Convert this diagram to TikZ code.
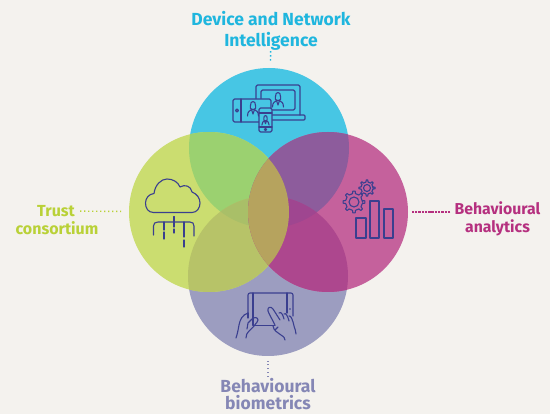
\documentclass[tikz,border=0pt]{standalone}
\usepackage{fontspec}
\setmainfont{Fira Sans}
\definecolor{paper}{HTML}{F4F2EE}
\definecolor{bluefill}{HTML}{47C6E4}
\definecolor{greenfill}{HTML}{CBDD70}
\definecolor{magentafill}{HTML}{C5619C}
\definecolor{lavfill}{HTML}{9C9DC0}
\definecolor{bluetext}{HTML}{1FB6DE}
\definecolor{greentext}{HTML}{B9D137}
\definecolor{magentatext}{HTML}{B5307F}
\definecolor{lavtext}{HTML}{8587B5}
\definecolor{icon}{HTML}{3A3F8F}
\newcommand{\blueclip}{\clip (269,148) circle (80);}
\newcommand{\greenclip}{\clip (209,212) circle (80);}
\newcommand{\magentaclip}{\clip (328,212) circle (80);}
\newcommand{\lavclip}{\clip (268,276) circle (80);}
\newcommand{\overlap}[2]{\begin{scope}#2\fill[fill=#1] (0,0) rectangle (550,414);\end{scope}}
\begin{document}
\begin{tikzpicture}[x=1pt,y=-1pt,
        venn/.style = {circle, inner sep=0pt, outer sep=0pt, minimum size=160pt},
        lbl/.style = {align=center, inner sep=0pt},
        dots/.style = {line width=1.4pt, dash pattern=on 1.4pt off 2.6pt, shorten >=5pt, shorten <=5pt},
        iconline/.style = {draw=icon, line width=1.1pt, line cap=round, line join=round},
        person/.pic = {
            \draw[iconline] (-2.6,0) .. controls (-3,-6) and (3,-6) .. (2.6,0) -- (2.6,2.5) .. controls (1.5,4) and (-1.5,4) .. (-2.6,2.5) -- cycle;
            \draw[iconline] (-5.5,10) .. controls (-5.5,5) and (-3,5) .. (-1.5,3.5) -- (0,8) -- (1.5,3.5) .. controls (3,5) and (5.5,5) .. (5.5,10);
        },
        gear/.pic = {
            \draw[iconline] (0:\gearin) \foreach \a in {0,45,...,315} {
                -- (\a-10:\gearin) -- (\a-6:\gearout) -- (\a+6:\gearout) -- (\a+10:\gearin)
            } -- cycle;
            \draw[iconline] (0,0) circle (\gearhole);
        }]
    \fill[paper] (0,0) rectangle (550,414);
    \useasboundingbox (0,0) rectangle (550,414);

    \node[venn, fill=bluefill] (blue) at (269,148) {};
    \node[venn, fill=lavfill] (lav) at (268,276) {};
    \node[venn, fill=greenfill] (green) at (209,212) {};
    \node[venn, fill=magentafill] (magenta) at (328,212) {};

    % overlaps
    \definecolor{bg}{HTML}{9BD170}
    \definecolor{bm}{HTML}{8D5C9C}
    \definecolor{gl}{HTML}{B7C368}
    \definecolor{ml}{HTML}{AD478E}
    \definecolor{gm}{HTML}{B6A35E}
    \definecolor{bgl}{HTML}{A9BF68}
    \definecolor{bml}{HTML}{9F4690}
    \overlap{bg}{\blueclip\greenclip}
    \overlap{bm}{\blueclip\magentaclip}
    \overlap{gl}{\greenclip\lavclip}
    \overlap{ml}{\magentaclip\lavclip}
    \overlap{bgl}{\blueclip\greenclip\lavclip}
    \overlap{bml}{\blueclip\magentaclip\lavclip}
    \overlap{gm}{\greenclip\magentaclip}

    % labels
    \node[lbl, text=bluetext, font=\fontsize{17.5}{21}\selectfont\bfseries] (toplabel) at (271,30.5) {Device and Network\\Intelligence};
    \node[lbl, text=greentext, font=\fontsize{16}{18}\selectfont\bfseries] (trust) at (56,211) {Trust};
    \node[lbl, text=greentext, font=\fontsize{16}{18}\selectfont\bfseries] (consortium) at (57,228) {consortium};
    \node[lbl, text=magentatext, font=\fontsize{15.8}{18}\selectfont\bfseries] (rightlabel) at (497.5,219) {Behavioural\\analytics};
    \node[lbl, text=lavtext, font=\fontsize{17.5}{17}\selectfont\bfseries] (bottomlabel) at (268,394) {Behavioural\\biometrics};

    \draw[dots, draw=bluetext, shorten <=1pt] (toplabel) -- (blue);
    \draw[dots, draw=greentext, shorten >=8pt] (trust) -- (green);
    \draw[dots, draw=magentatext, line width=1.2pt, dash pattern=on 2.4pt off 0.9pt, shorten >=3pt, shorten <=4pt] (rightlabel.west |- magenta) -- (magenta);
    \draw[dots, draw=lavtext, shorten <=1pt] (bottomlabel) -- (lav);

    % devices
    \draw[iconline, rounded corners=1.5pt] (256,115) -- (256,85) -- (300,85) -- (300,115);
    \draw[iconline, rounded corners=1.5pt] (261,110) -- (261,90) -- (295,90) -- (295,110) -- cycle;
    \draw[iconline, rounded corners=1pt] (272,115) -- (305,115) -- (305,120) -- (272,120);
    \pic at (278,97) {person};
    \draw[iconline, fill=bluefill, rounded corners=1.5pt] (233,99) rectangle (271,122);
    \draw[iconline] (241,99) -- (241,122);
    \draw[iconline] (237,110.5) circle (1.5);
    \pic at (253,106) {person};
    \draw[iconline, fill=bluefill, rounded corners=1.5pt] (259,108) rectangle (272,132);
    \draw[iconline] (259,113) -- (272,113);
    \draw[iconline] (259,127) -- (272,127);
    \draw[iconline] (265.5,129.5) circle (1.2);
    \pic[scale=0.65] at (265.5,118.5) {person};

    % cloud
    \draw[iconline] (153.5,212.5) .. controls (148,212.5) and (145.5,208) .. (145.5,203)
        .. controls (145.5,198) and (149,194) .. (154,193.5)
        .. controls (155,185) and (161,179) .. (167,179)
        .. controls (173,179) and (178,182) .. (180,187)
        .. controls (185,184) and (191,186) .. (192,192)
        .. controls (197,194) and (200,198) .. (200,203)
        .. controls (200,208) and (197,212.5) .. (192,212.5) -- cycle;
    \draw[iconline] (153.5,235) -- (153.5,226) .. controls (153.5,223.5) and (155,222) .. (158,222)
        -- (190,222) .. controls (192.5,222) and (194,223.5) .. (194,226) -- (194,236);
    \draw[iconline] (174,216.5) -- (174,222);
    \draw[iconline] (164,222) -- (164,230);
    \draw[iconline] (164,232) -- (164,239);
    \draw[iconline] (174,222) -- (174,227);
    \draw[iconline] (174,229) -- (174,233);
    \draw[iconline] (184,222) -- (184,237);
    \draw[iconline] (184,240) -- (184,247);

    % gears and bars
    \def\gearin{8.5}\def\gearout{11}\def\gearhole{5}
    \pic at (354,202) {gear};
    \def\gearin{6}\def\gearout{8}\def\gearhole{3.5}
    \pic at (367,188) {gear};
    \draw[iconline] (356,218) rectangle (366,238);
    \draw[iconline] (370,201) rectangle (379,238);
    \draw[iconline] (384,209) rectangle (393,238);

    % tablet and hands
    \draw[iconline, rounded corners=2pt] (248,313) -- (248,293) -- (293,293) -- (293,316);
    \draw[iconline] (253,293) -- (253,325.5) -- (275,325.5);
    \draw[iconline] (248,313) -- (248,318);
    \draw[iconline] (287,293) -- (287,313);
    \fill[icon] (290,309) circle (0.8);
    \draw[iconline] (248,313) .. controls (242,315) and (240,320) .. (239,325) .. controls (238,331) and (237,335) .. (236,338);
    \draw[iconline] (246,338) .. controls (246,332) and (250,331) .. (254,326) .. controls (256,323) and (258,322) .. (258,320) .. controls (258,317) and (254,317) .. (252,319) -- (248,323) -- (247,329);
    \draw[iconline] (275,325) .. controls (272,319) and (269,314) .. (268,311) .. controls (267,307) and (271,306) .. (273,309) -- (280,320);
    \draw[iconline] (279,313) .. controls (281,311) and (283,315) .. (284,319);
    \draw[iconline] (284,314) .. controls (286,312) and (288,317) .. (289,321);
    \draw[iconline] (289,316) .. controls (291,315) and (293,321) .. (294,326) .. controls (295,329) and (296,332) .. (296,334);
    \draw[iconline] (273,326) .. controls (274,331) and (277,332) .. (281,335) .. controls (284,337) and (285,338) .. (285,340);
    \draw[iconline] (275,330) -- (278,327);
\end{tikzpicture}
\end{document}
